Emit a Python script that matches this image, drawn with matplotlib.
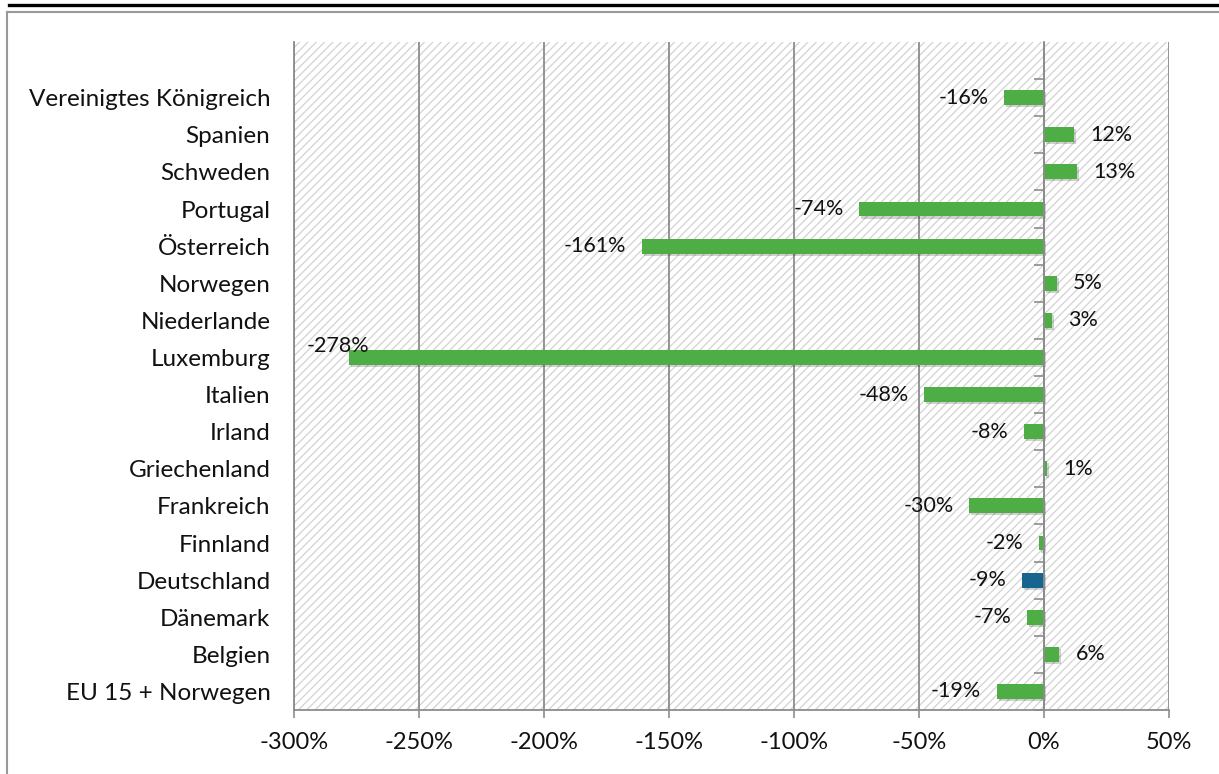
import numpy as np
import matplotlib
matplotlib.use('Agg')
import matplotlib.pyplot as plt
import matplotlib.patheffects as pe
from matplotlib.lines import Line2D

plt.rcParams['font.family'] = ['Lato', 'DejaVu Sans']
plt.rcParams['hatch.linewidth'] = 0.9

# Daten (von oben nach unten)
laender = ['Vereinigtes Königreich', 'Spanien', 'Schweden', 'Portugal', 'Österreich',
           'Norwegen', 'Niederlande', 'Luxemburg', 'Italien', 'Irland', 'Griechenland',
           'Frankreich', 'Finnland', 'Deutschland', 'Dänemark', 'Belgien', 'EU 15 + Norwegen']
werte = [-16, 12, 13, -74, -161, 5, 3, -278, -48, -8, 1, -30, -2, -9, -7, 6, -19]
hervorgehoben = ['Deutschland']

x_ticks = [-300, -250, -200, -150, -100, -50, 0, 50]

gruen = '#4eae45'
blau = '#17658f'
grau = '#8c8c8c'
textfarbe = '#111111'

n = len(laender)
pos = np.arange(n)[::-1]  # oberste Kategorie oben

fig = plt.figure(figsize=(12.19, 7.74), dpi=100)
rect = [294 / 1219, 1 - 710 / 774, 875 / 1219, 668 / 774]
ax = fig.add_axes(rect)

# schraffierter Hintergrund
ax.patch.set_facecolor('white')
ax.patch.set_hatch('////')
ax.patch.set_edgecolor('#d2d2d2')
ax.patch.set_linewidth(0)

farben = [blau if l in hervorgehoben else gruen for l in laender]
bars = ax.barh(pos, werte, height=0.4, color=farben, zorder=3)
for b in bars:
    b.set_path_effects([pe.SimplePatchShadow(offset=(1.5, -1.5), alpha=0.18, shadow_rgbFace='black'),
                        pe.Normal()])

ax.set_xlim(-300, 50)
ax.set_ylim(-0.5, n + 0.5)
ax.set_xticks(x_ticks)
ax.set_xticklabels([f'{t}%' for t in x_ticks], fontsize=17, color=textfarbe)
ax.tick_params(axis='x', direction='out', length=6, width=1.2, color=grau, pad=10)

ax.set_yticks(pos)
ax.set_yticklabels(laender, fontsize=17.5, color=textfarbe)
ax.tick_params(axis='y', length=0, pad=17)

ax.grid(axis='x', color=grau, linewidth=1.3, zorder=1)
ax.set_axisbelow(True)
for s in ['top', 'right']:
    ax.spines[s].set_visible(False)
for s in ['left', 'bottom']:
    ax.spines[s].set_color(grau)
    ax.spines[s].set_linewidth(1.3)

# vertikale Achse bei 0 % mit Teilstrichen nach links
frac = (0 - (-300)) / 350
ax0 = fig.add_axes([rect[0] + frac * rect[2], rect[1], 1e-6, rect[3]])
ax0.set_ylim(ax.get_ylim())
ax0.patch.set_visible(False)
for s in ['top', 'right', 'bottom']:
    ax0.spines[s].set_visible(False)
ax0.spines['left'].set_color(grau)
ax0.spines['left'].set_linewidth(1.3)
ax0.set_xticks([])
ax0.set_yticks(np.arange(-0.5, n, 1.0))
ax0.yaxis.set_ticks_position('left')
ax0.tick_params(axis='y', direction='out', length=7, width=1.2,
                color=grau, labelleft=False, labelright=False)

# Datenbeschriftungen
for p, v in zip(pos, werte):
    txt = f'{v}%'
    if v < -250:
        ax.text(-295, p + 0.32, txt, ha='left', va='center', fontsize=15.5,
                color=textfarbe, zorder=4)
    elif v < 0:
        ax.annotate(txt, (v, p), xytext=(-11, 0), textcoords='offset points',
                    ha='right', va='center', fontsize=15.5, color=textfarbe, zorder=4)
    else:
        ax.annotate(txt, (v, p), xytext=(12, 0), textcoords='offset points',
                    ha='left', va='center', fontsize=15.5, color=textfarbe, zorder=4)

# Rahmen
fig.add_artist(Line2D([9 / 1219, 1], [1 - 4.5 / 774] * 2, color='black', linewidth=2.4))
fig.add_artist(Line2D([7 / 1219, 1], [1 - 12 / 774] * 2, color='#999999', linewidth=1.5))
fig.add_artist(Line2D([7 / 1219] * 2, [0, 1 - 12 / 774], color='#999999', linewidth=1.5))

fig.savefig('out.png', dpi=100)
